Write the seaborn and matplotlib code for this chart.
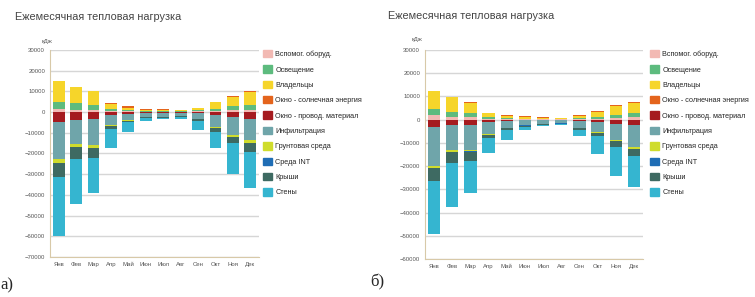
import numpy as np
import matplotlib
matplotlib.use('Agg')
import matplotlib.pyplot as plt
import matplotlib.patches as mpatches
import seaborn as sns

sns.set_style('white')
plt.rcParams['font.family'] = ['Liberation Sans', 'DejaVu Sans']

months = ['Янв', 'Фев', 'Мар', 'Апр', 'Май', 'Июн', 'Июл', 'Авг', 'Сен', 'Окт', 'Ноя', 'Дек']
series = ['Вспомог. оборуд.', 'Освещение', 'Владельцы', 'Окно - солнечная энергия',
          'Окно - провод. материал', 'Инфильтрация', 'Грунтовая среда', 'Среда INT',
          'Крыши', 'Стены']
colors = ['#f2b9b3', '#5dbb7e', '#f6d52a', '#e4641c', '#a51b1f',
          '#6fa5aa', '#cfdc2c', '#1f6db5', '#3e6a62', '#35b5d0']

# --- panel a) ---  gains (stacked up from 0)
a_equip = [1500, 1200, 1000, 500, 300, 200, 200, 200, 300, 500, 800, 1100]
a_light = [3500, 3000, 2500, 1000, 600, 400, 400, 400, 700, 1200, 2000, 2500]
a_people = [9800, 7900, 6900, 2500, 1200, 600, 500, 400, 900, 3000, 4700, 6000]
a_solar = [0, 0, 0, 300, 800, 400, 600, 200, 300, 200, 200, 700]
# losses (stacked down from 0)
a_cond = [4800, 4000, 3500, 1500, 800, 300, 200, 200, 500, 1300, 2500, 3200]
a_infil = [18000, 11500, 12500, 4500, 3000, 2000, 2000, 1500, 2700, 5800, 8500, 10500]
a_ground = [1800, 1500, 1200, 600, 300, 200, 200, 200, 200, 500, 900, 1200]
a_int = [100, 100, 100, 100, 100, 100, 100, 100, 100, 100, 100, 100]
a_roof = [6500, 5500, 5000, 1500, 800, 400, 300, 300, 800, 2000, 3000, 4500]
a_walls = [28800, 22000, 16700, 9300, 4800, 1300, 700, 900, 4200, 7500, 15000, 17000]

# --- panel б) ---
b_equip = [1800, 1200, 1000, 400, 300, 200, 150, 150, 300, 500, 800, 1000]
b_light = [3000, 2300, 2000, 800, 400, 300, 250, 200, 400, 800, 1300, 1800]
b_people = [7600, 6300, 4000, 1500, 1000, 500, 400, 300, 1000, 2100, 3600, 4300]
b_solar = [0, 0, 600, 200, 300, 400, 200, 150, 200, 200, 500, 500]
b_cond = [3200, 2500, 2500, 1000, 600, 300, 200, 200, 400, 800, 1800, 2200]
b_infil = [16600, 10500, 10500, 5000, 2800, 2000, 1500, 1300, 3000, 4500, 7000, 9700]
b_ground = [1000, 1000, 700, 600, 300, 200, 150, 150, 300, 500, 500, 600]
b_int = [100, 100, 100, 100, 100, 50, 50, 50, 100, 100, 100, 100]
b_roof = [5400, 4700, 3800, 1300, 700, 400, 300, 300, 800, 1300, 2500, 2900]
b_walls = [23000, 18700, 14000, 6500, 4200, 1350, 700, 500, 2600, 7500, 12200, 13700]


def draw_panel(ax, gains, losses, ylim):
    gains = np.array(gains)
    losses = np.array(losses)
    # gains: biggest cumulative first, smaller drawn over it
    for k in reversed(range(len(gains))):
        sns.barplot(x=months, y=gains[:k + 1].sum(axis=0), color=colors[k],
                    width=0.68, saturation=1, errorbar=None, linewidth=0, ax=ax)
    for k in reversed(range(len(losses))):
        sns.barplot(x=months, y=-losses[:k + 1].sum(axis=0), color=colors[4 + k],
                    width=0.68, saturation=1, errorbar=None, linewidth=0, ax=ax)
    ax.set_ylim(*ylim)
    ax.set_yticks(np.arange(ylim[0], ylim[1] + 1, 10000))
    ax.set_xlim(-0.5, 11.5)
    ax.set_axisbelow(True)
    ax.yaxis.grid(True, color='#d6d6d6', linewidth=1.0)
    ax.xaxis.grid(False)
    for s in ['top', 'right']:
        ax.spines[s].set_visible(False)
    ax.spines['left'].set_color('#d8c9a8')
    ax.spines['bottom'].set_color('#d8c9a8')
    ax.spines['left'].set_linewidth(0.8)
    ax.spines['bottom'].set_linewidth(0.8)
    ax.tick_params(axis='both', labelsize=4.3, colors='#555555', length=2, width=0.5, pad=1.5)
    ax.tick_params(axis='x', length=2, color='#d8c9a8')
    ax.set_xlabel('')
    ax.set_ylabel('')


fig = plt.figure(figsize=(7.55, 2.97), dpi=100)

ax_a = fig.add_axes([50 / 755, 1 - 257 / 297, 209 / 755, 207 / 297])
draw_panel(ax_a, [a_equip, a_light, a_people, a_solar],
           [a_cond, a_infil, a_ground, a_int, a_roof, a_walls], (-70000, 30000))

ax_b = fig.add_axes([425 / 755, 1 - 259 / 297, 218 / 755, 209 / 297])
draw_panel(ax_b, [b_equip, b_light, b_people, b_solar],
           [b_cond, b_infil, b_ground, b_int, b_roof, b_walls], (-60000, 30000))

handles = [mpatches.Patch(color=c, label=l) for c, l in zip(colors, series)]
for x0 in (263 / 755, 650 / 755):
    fig.legend(handles=handles, loc='upper left', bbox_to_anchor=(x0, 1 - 50 / 297),
               frameon=False, fontsize=5.2, handlelength=1.2, handleheight=1.2,
               handletextpad=0.5, labelspacing=1.0, borderaxespad=0, borderpad=0)

# titles and unit labels
fig.text(15 / 755, 1 - 17 / 297, 'Ежемесячная тепловая нагрузка', fontsize=7.8,
         color='#444444', va='center', ha='left')
fig.text(388 / 755, 1 - 16 / 297, 'Ежемесячная тепловая нагрузка', fontsize=7.8,
         color='#444444', va='center', ha='left')
fig.text(47 / 755, 1 - 41 / 297, 'кДж', fontsize=4.3, color='#555555', va='center', ha='center')
fig.text(417 / 755, 1 - 39 / 297, 'кДж', fontsize=4.3, color='#555555', va='center', ha='center')

# panel letters
fig.text(0 / 755, 1 - 285 / 297, 'а)', fontsize=12, family='Liberation Serif', va='center', ha='left')
fig.text(370 / 755, 1 - 282 / 297, 'б)', fontsize=12, family='Liberation Serif', va='center', ha='left')

fig.savefig('out.png', dpi=100, facecolor='white')
